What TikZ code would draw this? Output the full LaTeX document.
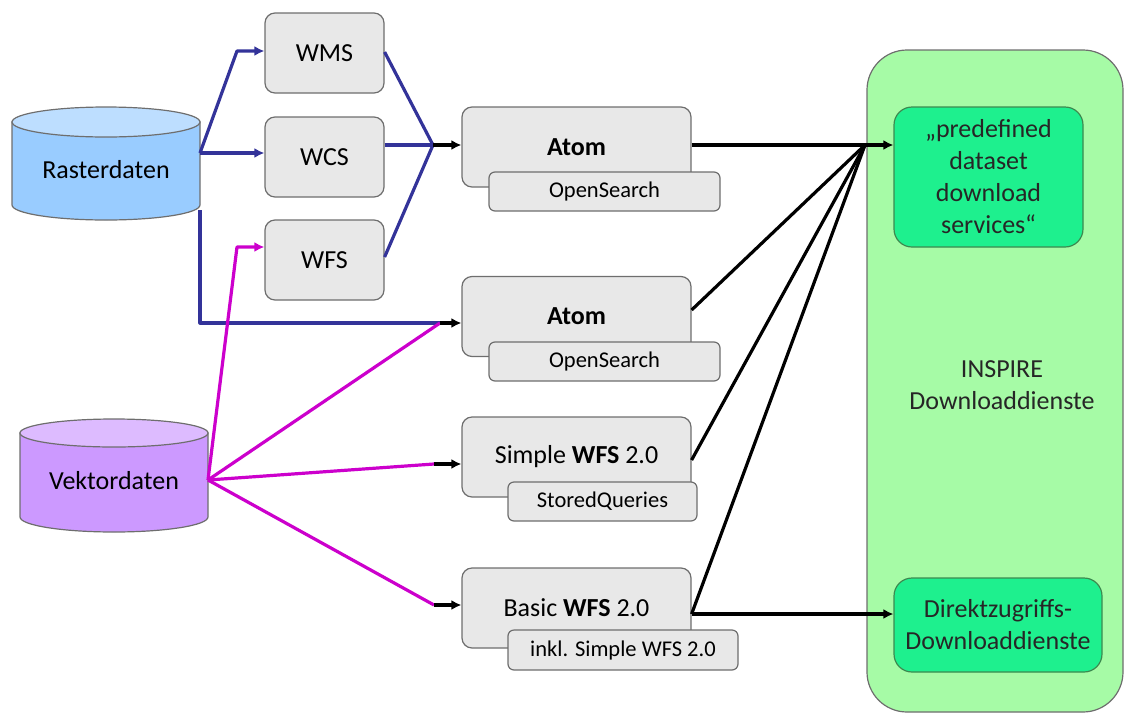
\documentclass[tikz,border=0pt]{standalone}
\usepackage{fontspec}
\setmainfont{Carlito}
\usetikzlibrary{arrows.meta}
\definecolor{boxgray}{HTML}{E8E8E8}
\definecolor{boxline}{HTML}{6E6E6E}
\definecolor{rblue}{HTML}{99CCFF}
\definecolor{rbluetop}{HTML}{BDDEFF}
\definecolor{vviolet}{HTML}{CC99FF}
\definecolor{vviolettop}{HTML}{DDBBFF}
\definecolor{lblue}{HTML}{333399}
\definecolor{lmag}{HTML}{CC00CC}
\definecolor{biggreen}{HTML}{A6FBA6}
\definecolor{innergreen}{HTML}{1EF08E}
\definecolor{greenline}{HTML}{3C8A50}
\begin{document}
\begin{tikzpicture}[x=1pt,y=-1pt,
  txt/.style={font=\fontsize{26}{32}\selectfont, align=center, inner sep=0pt},
  svc/.style={draw=boxline, line width=1.2pt, fill=boxgray, rounded corners=10pt,
     minimum width=119pt, minimum height=80pt, inner sep=0pt, font=\fontsize{26}{32}\selectfont},
  mainbox/.style={draw=boxline, line width=1.2pt, fill=boxgray, rounded corners=10pt,
     minimum width=229pt, minimum height=80pt, inner sep=0pt, font=\fontsize{26}{32}\selectfont},
  subbox/.style={draw=boxline, line width=1.2pt, fill=boxgray, rounded corners=6pt,
     minimum height=39pt, inner sep=0pt, font=\fontsize{22.5}{26}\selectfont},
  gbox/.style={draw=greenline, line width=1.2pt, fill=innergreen, rounded corners=18pt,
     inner sep=0pt, align=center, text=black!85, font=\fontsize{26}{32}\selectfont},
  bl/.style={draw=lblue, line width=3.2pt, line join=round},
  mg/.style={draw=lmag, line width=3.2pt, line join=round},
  bk/.style={draw=black, line width=3.2pt, line join=round},
  tip/.style={-{Latex[length=10pt,width=10pt]}},
]
\useasboundingbox (0,0) rectangle (1125,713);

% big green container
\node[draw=boxline, line width=1.2pt, fill=biggreen, rounded corners=40pt,
      minimum width=256pt, minimum height=662pt, inner sep=0pt] (inspire) at (995,381) {};
\node[txt, text=black!85] (inspiretxt) at (1002,385) {INSPIRE\\Downloaddienste};

% inner green boxes
\node[gbox, minimum width=189pt, minimum height=140pt] (pre) at (988.5,177)
   {„predefined\\dataset\\download\\services“};
\node[gbox, minimum width=208pt, minimum height=94pt] (direkt) at (998,625)
   {Direktzugriffs-\\Downloaddienste};

% cylinders
\draw[boxline, line width=1.2pt, fill=rblue]
  (12,122) -- (12,205) arc[start angle=180, end angle=0, x radius=94, y radius=15]
  -- (200,122) -- cycle;
\draw[boxline, line width=1.2pt, fill=rbluetop] (106,122) ellipse[x radius=94, y radius=15];
\node[txt] (raster) at (106,170) {Rasterdaten};

\draw[boxline, line width=1.2pt, fill=vviolet]
  (20,433) -- (20,517) arc[start angle=180, end angle=0, x radius=94, y radius=15]
  -- (208,433) -- cycle;
\draw[boxline, line width=1.2pt, fill=vviolettop] (114,433) ellipse[x radius=94, y radius=14];
\node[txt] (vektor) at (114,481) {Vektordaten};

% OGC service boxes
\node[svc] (wms) at (324.5,53) {WMS};
\node[svc] (wcs) at (324.5,157) {WCS};
\node[svc] (wfs) at (324.5,260) {WFS};

% download service boxes
\node[mainbox] (atom1) at (576.5,147) {\textbf{Atom}};
\node[subbox, minimum width=231pt] (os1) at (604.5,191.5) {OpenSearch};
\node[mainbox] (atom2) at (576.5,316.5) {\textbf{Atom}};
\node[subbox, minimum width=231pt] (os2) at (604.5,361.5) {OpenSearch};
\node[mainbox] (simple) at (576.5,457) {Simple \textbf{WFS} 2.0};
\node[subbox, minimum width=189pt] (sq) at (602.5,501.5) {StoredQueries};
\node[mainbox] (basic) at (576.5,608) {Basic \textbf{WFS} 2.0};
\node[subbox, minimum width=230pt, minimum height=40pt] (inkl) at (623,650) {inkl. Simple WFS 2.0};

% junction coordinates
\coordinate (rs) at (200,153);
\coordinate (rb) at (200,210);
\coordinate (rcorner) at (200,323);
\coordinate (wmsknee) at (237,51);
\coordinate (wfsknee) at (237,247);
\coordinate (wmsout) at (385,52);
\coordinate (wfsout) at (385,257);
\coordinate (vs) at (208,480);
\coordinate (j1) at (433,145);
\coordinate (j2) at (440,323);
\coordinate (j3) at (434,464);
\coordinate (j4) at (434,605);
\coordinate (hub) at (865,145);
\coordinate (a2out) at (691,310);
\coordinate (sout) at (691,460);
\coordinate (bout) at (691,614);

% blue connectors
\draw[bl, tip] (rs) -- (wmsknee) -- (wms.west |- wmsknee);
\draw[bl, tip] (rs) -- (wcs.west |- rs);
\draw[bl] (rb) -- (rcorner) -- (j2);
\draw[bl] (wms.east |- wmsout) -- (j1);
\draw[bl] (wcs.east |- j1) -- (j1);
\draw[bl] (wfs.east |- wfsout) -- (j1);

% magenta connectors
\draw[mg, tip] (vs) -- (wfsknee) -- (wfs.west |- wfsknee);
\draw[mg] (vs) -- (j2);
\draw[mg] (vs) -- (j3);
\draw[mg] (vs) -- (j4);

% black arrow pieces
\draw[bk, tip] (j1) -- (atom1.west |- j1);
\draw[bk, tip] (j2) -- (atom2.west |- j2);
\draw[bk, tip] (j3) -- (simple.west |- j3);
\draw[bk, tip] (j4) -- (basic.west |- j4);

% black connectors to hub
\draw[bk] (atom1.east |- hub) -- (hub);
\draw[bk] (atom2.east |- a2out) -- (hub);
\draw[bk] (simple.east |- sout) -- (hub);
\draw[bk] (basic.east |- bout) -- (hub);
\draw[bk, tip] (hub) -- (pre.west |- hub);
\draw[bk, tip] (basic.east |- bout) -- (direkt.west |- bout);
\end{tikzpicture}
\end{document}
